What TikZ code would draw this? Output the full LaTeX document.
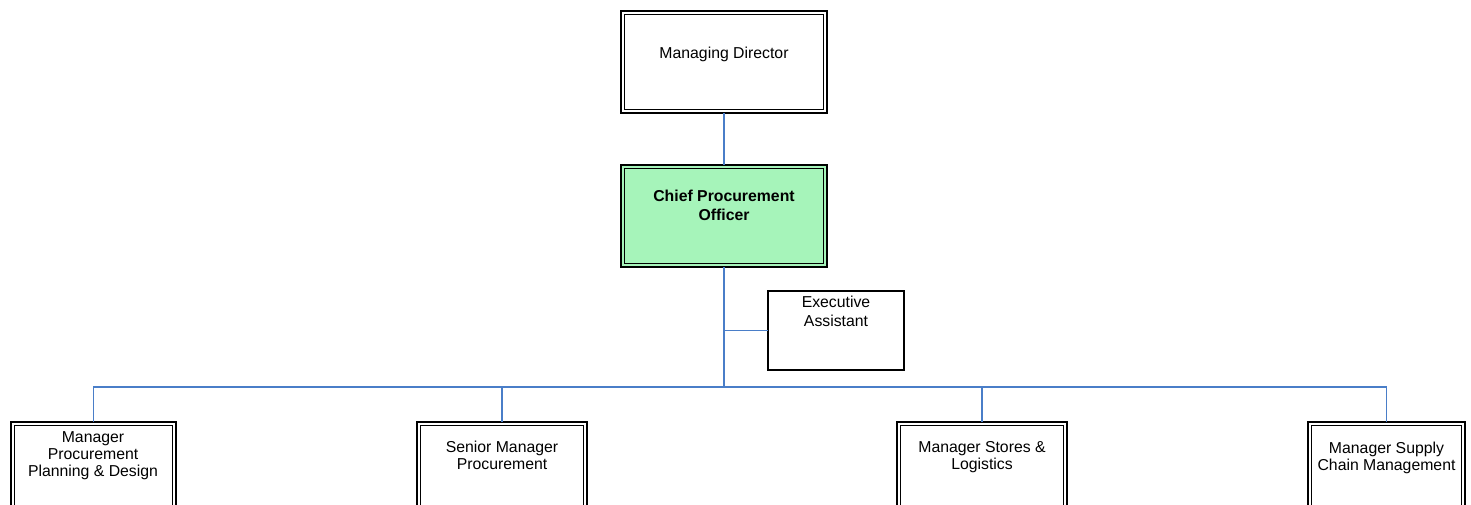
\documentclass[tikz,border=0pt]{standalone}
\usepackage{fontspec}
\setmainfont{Liberation Sans}
\definecolor{lineblue}{RGB}{74,126,200}
\definecolor{cpogreen}{RGB}{166,244,186}
\begin{document}
\begin{tikzpicture}[x=1pt,y=-1pt,
  conn/.style={draw=lineblue, line width=1.4pt},
  dbox/.style={draw=black, line width=1.8pt, inner sep=0pt, outer sep=0pt,
    path picture={\draw[black,line width=1.1pt]
      ([shift={(3.7pt,-3.7pt)}]path picture bounding box.north west) rectangle
      ([shift={(-3.7pt,3.7pt)}]path picture bounding box.south east);}},
  sbox/.style={draw=black, line width=1.2pt, inner sep=0pt, outer sep=0pt},
  txt/.style={inner sep=0pt, anchor=north, align=center,
    font=\fontsize{15.8pt}{17pt}\selectfont},
  btxt/.style={txt, font=\fontsize{15.8pt}{19pt}\selectfont\bfseries},
  etxt/.style={txt, font=\fontsize{15.8pt}{18.5pt}\selectfont}
]
\useasboundingbox (0,0) rectangle (1471,504);
\clip (0,0) rectangle (1471,504);

% boxes
\node[dbox, minimum width=206pt, minimum height=102pt] (md) at (724,62) {};
\node[dbox, fill=cpogreen, minimum width=206pt, minimum height=102pt] (cpo) at (724,216) {};
\node[sbox, minimum width=136pt, minimum height=79pt] (ea) at (836,330.5) {};
\node[dbox, minimum width=165pt, minimum height=118pt] (b1) at (93.5,481) {};
\node[dbox, minimum width=170pt, minimum height=118pt] (b2) at (502,481) {};
\node[dbox, minimum width=170pt, minimum height=118pt] (b3) at (982,481) {};
\node[dbox, minimum width=157pt, minimum height=118pt] (b4) at (1386.5,481) {};

% texts
\node[txt] (mdT) at (724,47) {Managing Director};
\node[btxt] (cpoT) at (724,190) {Chief Procurement\\Officer};
\node[etxt] (eaT) at (836,296) {Executive\\Assistant};
\node[txt] (b1T) at (93,431) {Manager\\Procurement\\Planning \& Design};
\node[txt] (b2T) at (502,441) {Senior Manager\\Procurement};
\node[txt] (b3T) at (982,441) {Manager Stores \&\\Logistics};
\node[txt] (b4T) at (1386.5,442) {Manager Supply\\Chain Management};

% connectors
\coordinate (bus) at (724,387);
\draw[conn] (md.south) -- (cpo.north);
\draw[conn] (cpo.south) -- (bus);
\draw[conn] (ea.west) -- (ea.west -| cpo.south);
\draw[conn] (b1.north) -- (b1.north |- bus) -- (b4.north |- bus) -- (b4.north);
\draw[conn] (b2.north) -- (b2.north |- bus);
\draw[conn] (b3.north) -- (b3.north |- bus);
\end{tikzpicture}
\end{document}
